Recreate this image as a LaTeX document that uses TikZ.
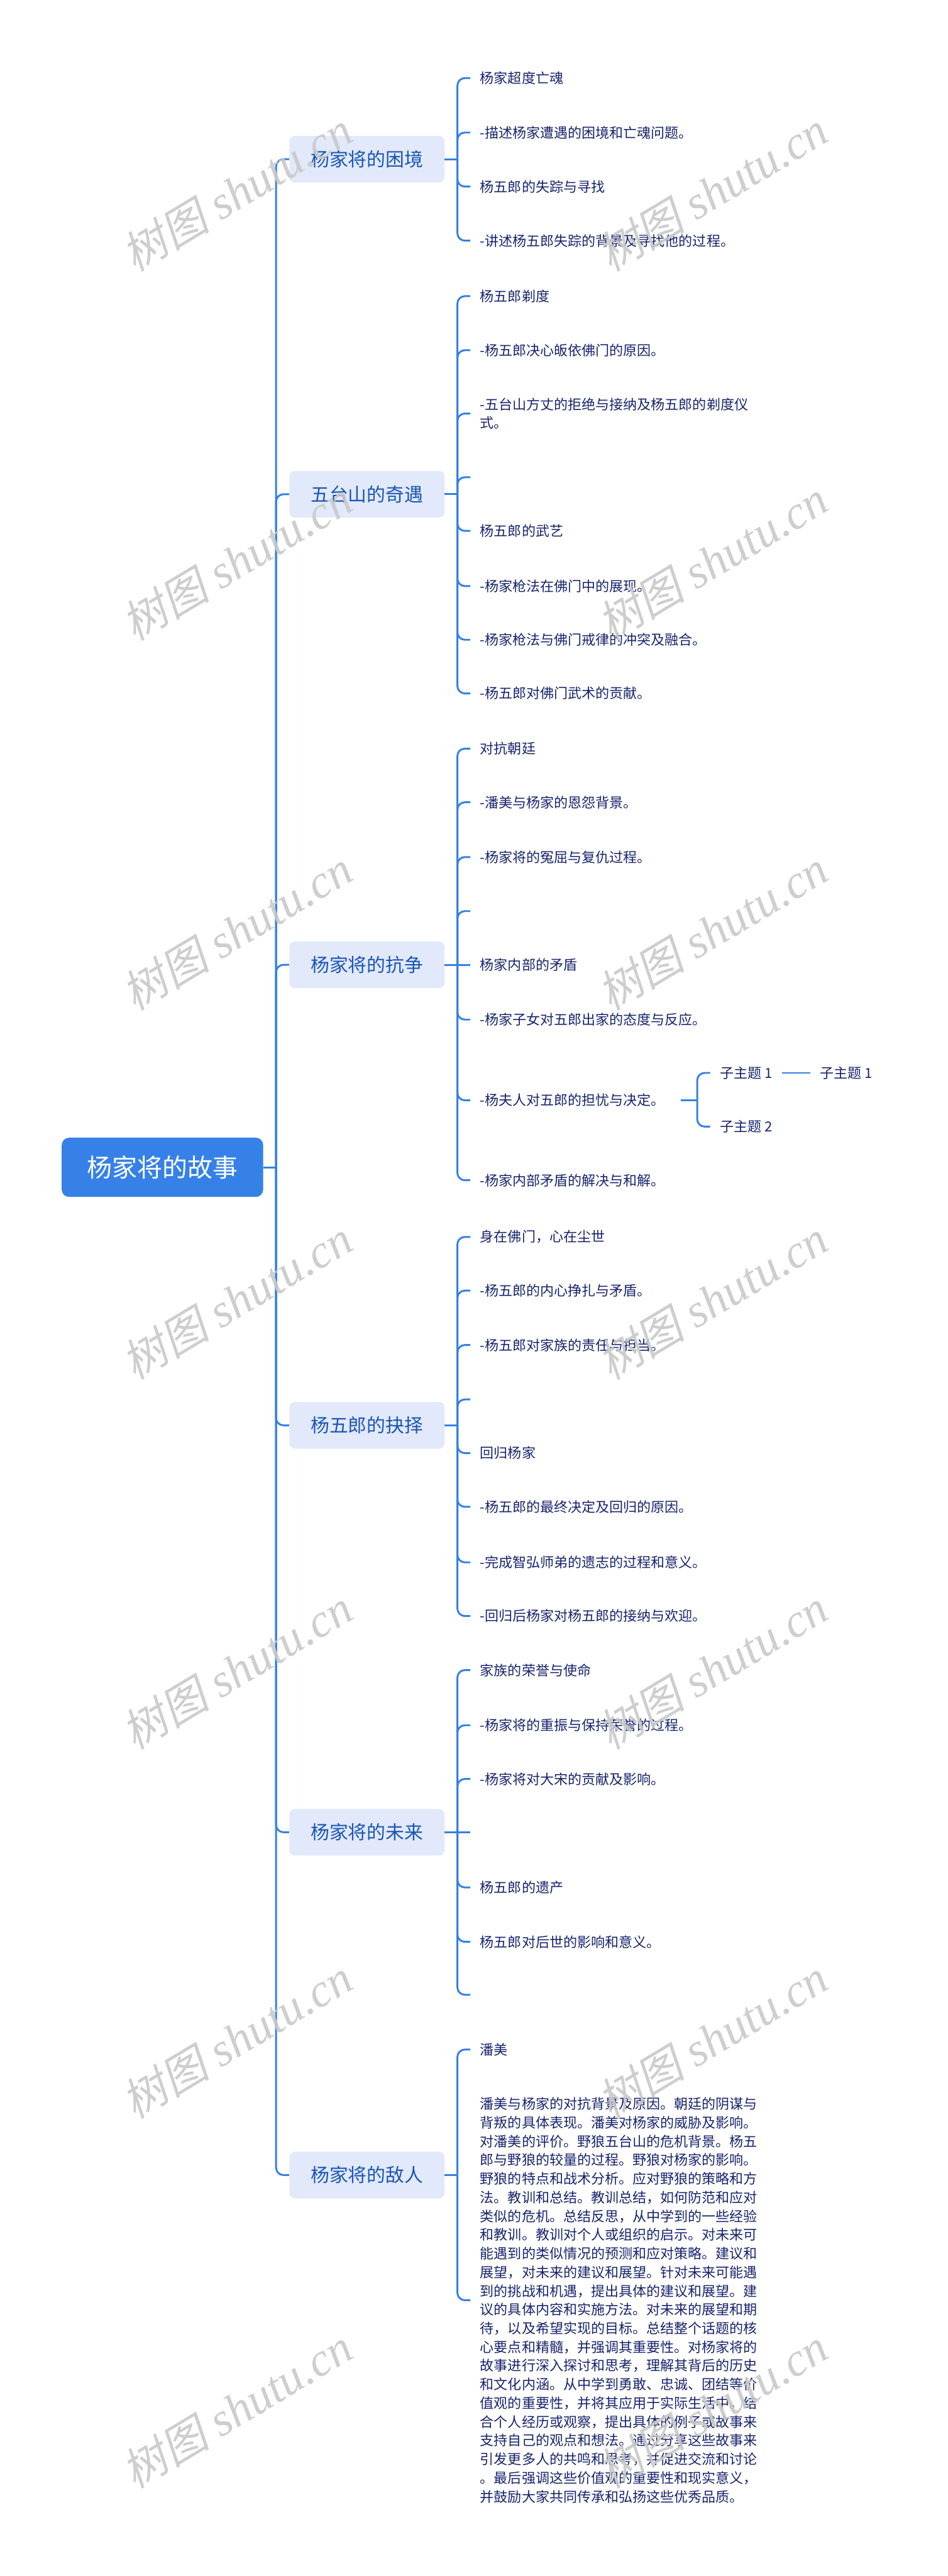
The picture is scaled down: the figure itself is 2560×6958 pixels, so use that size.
\documentclass[tikz,border=0pt]{standalone}
\usepackage{fontspec}
\newfontfamily\cjk{Noto Sans CJK SC}
\newfontfamily\wmcjk[FakeSlant=0.22]{Noto Sans CJK SC}
\newfontfamily\wmlat{Liberation Serif}
\definecolor{rootblue}{HTML}{3581E8}
\definecolor{linkblue}{HTML}{3580E4}
\definecolor{lonefill}{HTML}{E2E9FB}
\definecolor{lonetext}{HTML}{1A56B4}
\definecolor{leaftext}{HTML}{18246E}
\definecolor{wmgray}{HTML}{C9C9C9}
\tikzset{
  rootbox/.style={fill=rootblue, rounded corners=0.2cm, minimum width=5.44cm, minimum height=1.6cm,
    text=white, inner sep=0pt, font=\cjk\fontsize{19.3}{23}\selectfont},
  topicbox/.style={fill=lonefill, rounded corners=0.15cm, minimum width=4.19cm, minimum height=1.26cm,
    text=lonetext, inner sep=0pt, font=\cjk\fontsize{14.4}{18}\selectfont},
  leaf/.style={anchor=west, inner xsep=0.26cm, inner ysep=0pt, text=leaftext, align=left,
    font=\cjk\fontsize{10.64}{14.37}\selectfont},
  conn/.style={draw=linkblue, line width=0.05cm, rounded corners=0.2cm},
  wmark/.style={rotate=31, text=wmgray, inner sep=0pt, opacity=0.9}
}
\begin{document}
\begin{tikzpicture}[x=0.01cm, y=-0.01cm]
\useasboundingbox (0,0) rectangle (2560,6958);
\fill[white] (0,0) rectangle (2560,6958);

% root
\node[rootbox] (root) at (439,3153) {杨家将的故事};
\coordinate (tr) at (746,3153);

% level-1 topics
\node[topicbox] (b1) at (991.5,430) {杨家将的困境};
\node[topicbox] (b2) at (991.5,1335) {五台山的奇遇};
\node[topicbox] (b3) at (991.5,2606) {杨家将的抗争};
\node[topicbox] (b4) at (991.5,3850) {杨五郎的抉择};
\node[topicbox] (b5) at (991.5,4949) {杨家将的未来};
\node[topicbox] (b6) at (991.5,5875) {杨家将的敌人};

\draw[conn] (root.east) -- (tr);
\foreach \b in {b1,b2,b3,b4,b5,b6} { \draw[conn] (tr) |- (\b.west); }

% bracket joints
\coordinate (j1) at (1236,430);
\coordinate (j2) at (1236,1335);
\coordinate (j3) at (1236,2606);
\coordinate (j4) at (1236,3850);
\coordinate (j5) at (1236,4949);
\coordinate (j6) at (1236,5875);
\foreach \i in {1,...,6} { \draw[conn] (b\i.east) -- (j\i); }

% box 1 leaves
\node[leaf] (c11) at (1271,211) {杨家超度亡魂};
\node[leaf] (c12) at (1271,358) {-描述杨家遭遇的困境和亡魂问题。};
\node[leaf] (c13) at (1271,504) {杨五郎的失踪与寻找};
\node[leaf] (c14) at (1271,650) {-讲述杨五郎失踪的背景及寻找他的过程。};
\foreach \c in {c11,c12,c13,c14} { \draw[conn] (j1) |- (\c.west); }

% box 2 leaves
\node[leaf] (c21) at (1271,800) {杨五郎剃度};
\node[leaf] (c22) at (1271,946) {-杨五郎决心皈依佛门的原因。};
\node[leaf] (c23) at (1271,1117) {-五台山方丈的拒绝与接纳及杨五郎的剃度仪\\式。};
\coordinate (c24) at (1271,1289);
\node[leaf] (c25) at (1271,1434) {杨五郎的武艺};
\node[leaf] (c26) at (1271,1583) {-杨家枪法在佛门中的展现。};
\node[leaf] (c27) at (1271,1728) {-杨家枪法与佛门戒律的冲突及融合。};
\node[leaf] (c28) at (1271,1873) {-杨五郎对佛门武术的贡献。};
\foreach \c in {c21.west,c22.west,c23.west,c24,c25.west,c26.west,c27.west,c28.west} { \draw[conn] (j2) |- (\c); }

% box 3 leaves
\node[leaf] (c31) at (1271,2022) {对抗朝廷};
\node[leaf] (c32) at (1271,2167) {-潘美与杨家的恩怨背景。};
\node[leaf] (c33) at (1271,2315) {-杨家将的冤屈与复仇过程。};
\coordinate (c34) at (1271,2461);
\node[leaf] (c35) at (1271,2606) {杨家内部的矛盾};
\node[leaf] (c36) at (1271,2754) {-杨家子女对五郎出家的态度与反应。};
\node[leaf] (c37) at (1271,2972) {-杨夫人对五郎的担忧与决定。};
\node[leaf] (c38) at (1271,3188) {-杨家内部矛盾的解决与和解。};
\foreach \c in {c31.west,c32.west,c33.west,c34,c36.west,c37.west,c38.west} { \draw[conn] (j3) |- (\c); }
\draw[conn] (j3) -- (c35.west);

% sub topics
\coordinate (sj) at (1884,2972);
\node[leaf] (s1) at (1919,2898) {子主题 1};
\node[leaf] (s2) at (1919,3043) {子主题 2};
\node[leaf] (s3) at (2189,2898) {子主题 1};
\draw[conn] ([xshift=0.16cm]c37.east) -- (sj);
\draw[conn] (sj) |- (s1.west);
\draw[conn] (sj) |- (s2.west);
\draw[conn] (s1.east) -- (s3.west);

% box 4 leaves
\node[leaf] (c41) at (1271,3341) {身在佛门，心在尘世};
\node[leaf] (c42) at (1271,3486) {-杨五郎的内心挣扎与矛盾。};
\node[leaf] (c43) at (1271,3633) {-杨五郎对家族的责任与担当。};
\coordinate (c44) at (1271,3780);
\node[leaf] (c45) at (1271,3925) {回归杨家};
\node[leaf] (c46) at (1271,4070) {-杨五郎的最终决定及回归的原因。};
\node[leaf] (c47) at (1271,4220) {-完成智弘师弟的遗志的过程和意义。};
\node[leaf] (c48) at (1271,4365) {-回归后杨家对杨五郎的接纳与欢迎。};
\foreach \c in {c41.west,c42.west,c43.west,c44,c45.west,c46.west,c47.west,c48.west} { \draw[conn] (j4) |- (\c); }

% box 5 leaves
\node[leaf] (c51) at (1271,4511) {家族的荣誉与使命};
\node[leaf] (c52) at (1271,4660) {-杨家将的重振与保持荣誉的过程。};
\node[leaf] (c53) at (1271,4805) {-杨家将对大宋的贡献及影响。};
\coordinate (c54) at (1271,4949);
\node[leaf] (c55) at (1271,5098) {杨五郎的遗产};
\node[leaf] (c56) at (1271,5245) {杨五郎对后世的影响和意义。};
\coordinate (c57) at (1271,5388);
\foreach \c in {c51.west,c52.west,c53.west,c55.west,c56.west,c57} { \draw[conn] (j5) |- (\c); }
\draw[conn] (j5) -- (c54);

% box 6 leaves
\node[leaf] (c61) at (1271,5536) {潘美};
\node[leaf] (c62) at (1271,6213) {潘美与杨家的对抗背景及原因。朝廷的阴谋与\\
背叛的具体表现。潘美对杨家的威胁及影响。\\
对潘美的评价。野狼五台山的危机背景。杨五\\
郎与野狼的较量的过程。野狼对杨家的影响。\\
野狼的特点和战术分析。应对野狼的策略和方\\
法。教训和总结。教训总结，如何防范和应对\\
类似的危机。总结反思，从中学到的一些经验\\
和教训。教训对个人或组织的启示。对未来可\\
能遇到的类似情况的预测和应对策略。建议和\\
展望，对未来的建议和展望。针对未来可能遇\\
到的挑战和机遇，提出具体的建议和展望。建\\
议的具体内容和实施方法。对未来的展望和期\\
待，以及希望实现的目标。总结整个话题的核\\
心要点和精髓，并强调其重要性。对杨家将的\\
故事进行深入探讨和思考，理解其背后的历史\\
和文化内涵。从中学到勇敢、忠诚、团结等价\\
值观的重要性，并将其应用于实际生活中。结\\
合个人经历或观察，提出具体的例子或故事来\\
支持自己的观点和想法。通过分享这些故事来\\
引发更多人的共鸣和思考，并促进交流和讨论\\
。最后强调这些价值观的重要性和现实意义，\\
并鼓励大家共同传承和弘扬这些优秀品质。};
\foreach \c in {c61,c62} { \draw[conn] (j6) |- (\c.west); }

% watermarks
\foreach \k in {0,...,6} {
  \node[wmark] (wl\k) at (640,518+998*\k) {{\wmcjk\fontsize{34}{40}\selectfont 树图}{\wmlat\itshape\fontsize{36}{40}\selectfont\ shutu.cn}};
  \node[wmark] (wr\k) at (1925,518+998*\k) {{\wmcjk\fontsize{34}{40}\selectfont 树图}{\wmlat\itshape\fontsize{36}{40}\selectfont\ shutu.cn}};
}
\end{tikzpicture}
\end{document}
